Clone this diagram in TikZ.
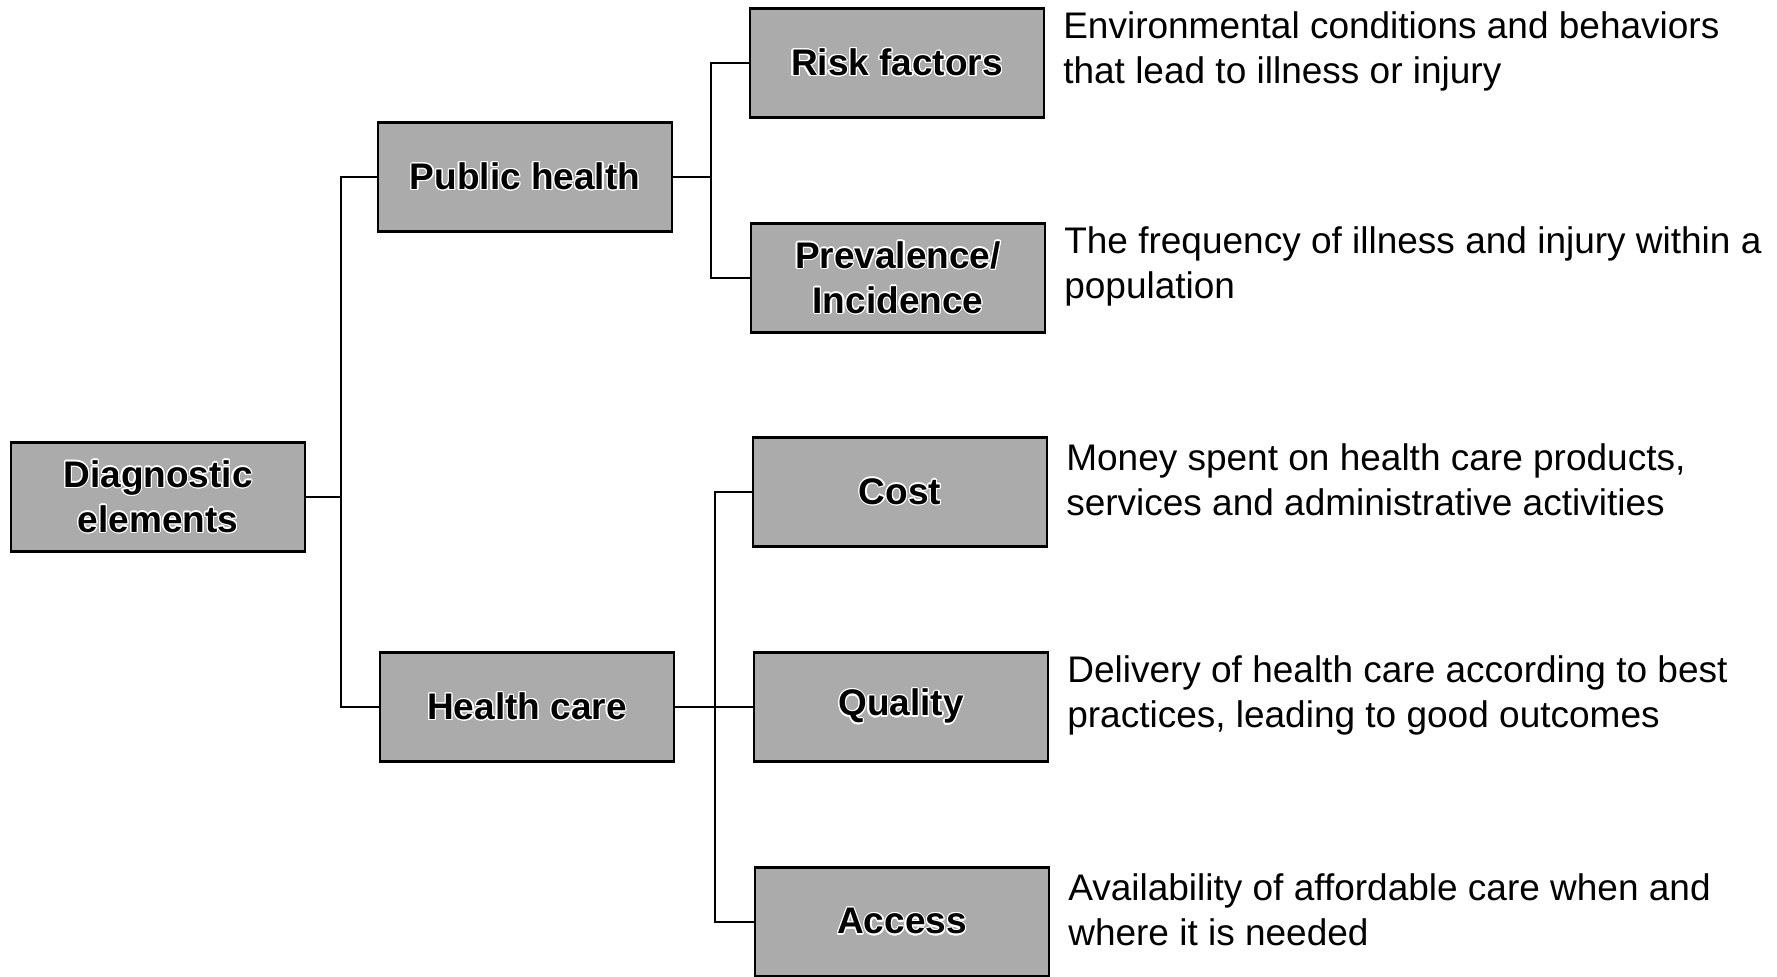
\documentclass[tikz,border=0pt]{standalone}
\usepackage{fontspec}
\setmainfont{Liberation Sans}
\usepackage{contour}
\contourlength{0.6pt}
\usetikzlibrary{positioning}

\newcommand{\boxtext}[1]{\contour{white}{#1}}

\begin{document}
\begin{tikzpicture}[x=0.5pt, y=-0.5pt, line width=1pt,
    box/.style={draw, line width=1.3pt, fill=black!33, minimum width=147pt,
        minimum height=54.5pt, align=center, inner sep=2pt,
        font=\fontsize{18.5}{22.5}\selectfont\bfseries},
    desc/.style={align=left, inner sep=0pt, yshift=6pt,
        font=\fontsize{18.5}{22.5}\selectfont}]
    \useasboundingbox (0,0) rectangle (1777,976);

    \node[box] (diag) at (158,497) {\boxtext{Diagnostic}\\\boxtext{elements}};

    \node[box] (pub) at (525,177) {\boxtext{Public health}};
    \node[box] (hc)  at (527,707) {\boxtext{Health care}};

    \node[box] (risk) at (897,63)  {\boxtext{Risk factors}};
    \node[box] (prev) at (898,278) {\boxtext{Prevalence/}\\\boxtext{Incidence}};
    \node[box] (cost) at (900,492) {\boxtext{Cost}};
    \node[box] (qual) at (901,707) {\boxtext{Quality}};
    \node[box] (acc)  at (902,922) {\boxtext{Access}};

    \node[desc, right=8.5pt of risk] (riskd) {Environmental conditions and behaviors\\that lead to illness or injury};
    \node[desc, right=8.5pt of prev] (prevd) {The frequency of illness and injury within a\\population};
    \node[desc, right=8.5pt of cost] (costd) {Money spent on health care products,\\services and administrative activities};
    \node[desc, right=8.5pt of qual] (quald) {Delivery of health care according to best\\practices, leading to good outcomes};
    \node[desc, right=8.5pt of acc]  (accd)  {Availability of affordable care when and\\where it is needed};

    \coordinate (trunk) at (341,497);
    \coordinate (pubfork) at (711,177);
    \coordinate (hcfork) at (715,707);

    \draw (diag.east) -- (trunk);
    \draw (pub.west) -| (trunk) |- (hc.west);

    \draw (pub.east) -- (pubfork);
    \draw (risk.west) -| (pubfork) |- (prev.west);

    \draw (hc.east) -- (qual.west);
    \draw (cost.west) -| (hcfork) |- (acc.west);
\end{tikzpicture}
\end{document}
